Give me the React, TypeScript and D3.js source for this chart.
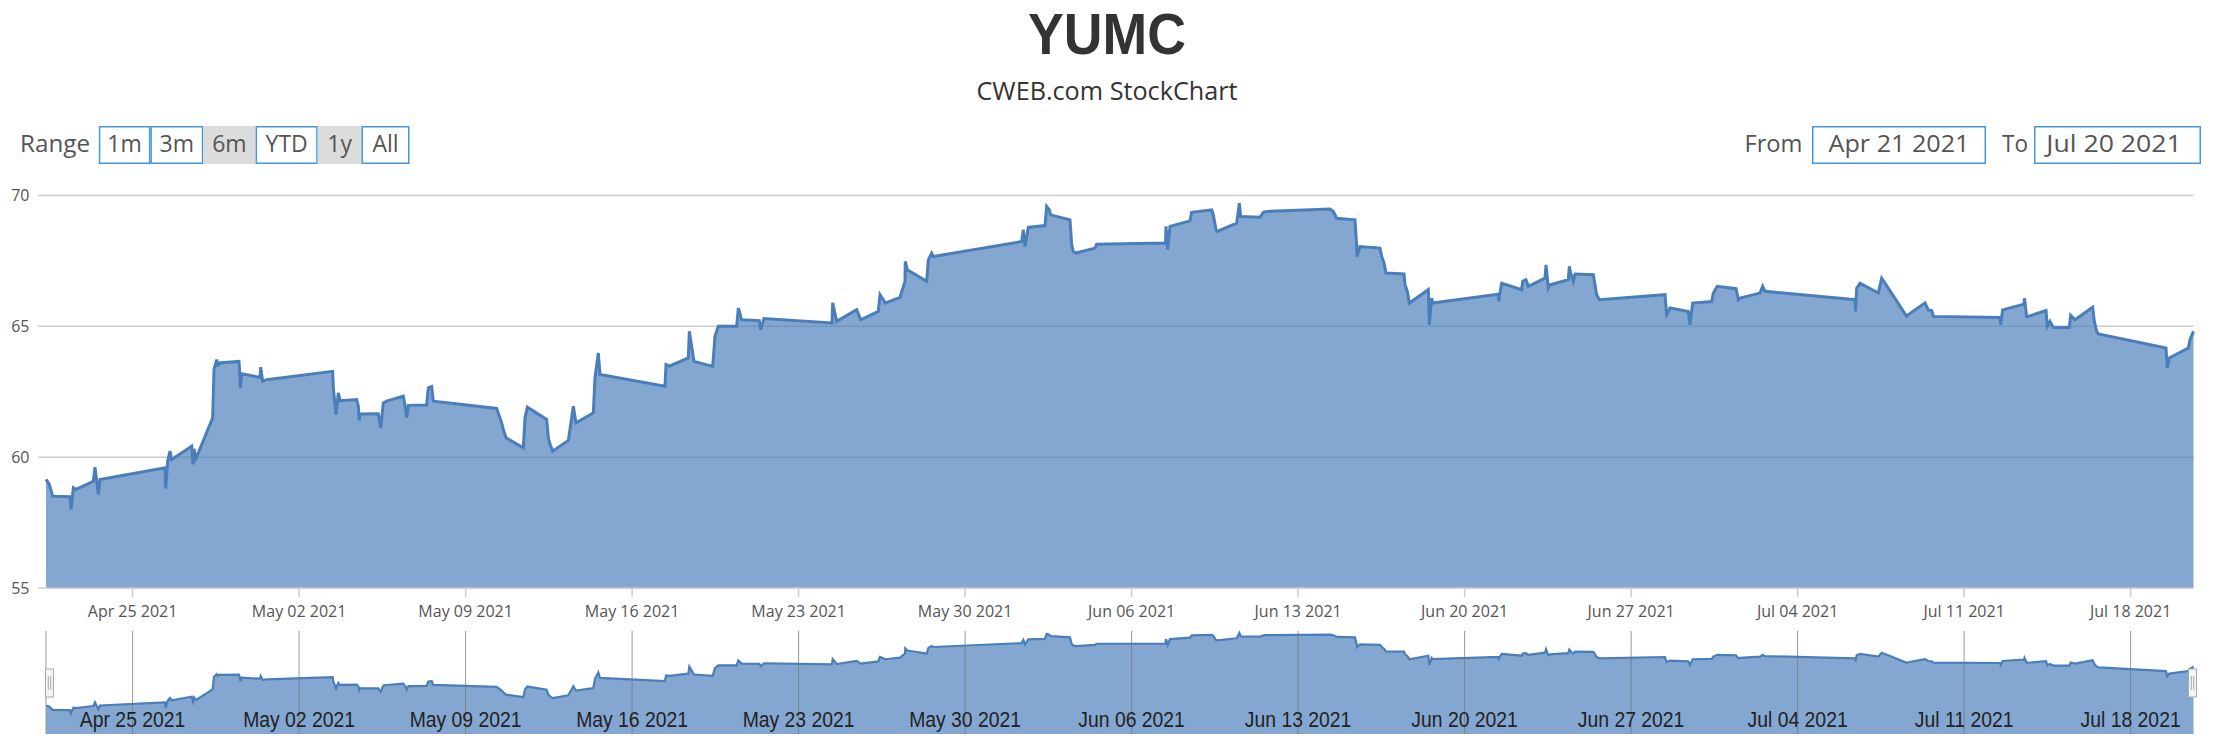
import React from 'react';
import * as d3 from 'd3';

const chartTitle = 'YUMC';
const chartSubtitle = 'CWEB.com StockChart';
const rangeLabel = 'Range';
const rangeButtons = ['1m', '3m', '6m', 'YTD', '1y', 'All'];
const selectedButtons = ['6m', '1y'];
const fromLabel = 'From';
const toLabel = 'To';
const fromValue = 'Apr 21 2021';
const toValue = 'Jul 20 2021';
const yTicks = [55, 60, 65, 70];

const times = [
  '2021-04-21T08:37', '2021-04-21T11:59', '2021-04-21T15:21', '2021-04-22T08:50', '2021-04-22T09:50',
  '2021-04-22T12:12', '2021-04-22T14:53', '2021-04-23T08:22', '2021-04-23T10:04', '2021-04-23T13:25',
  '2021-04-23T15:06', '2021-04-26T08:41', '2021-04-26T09:22', '2021-04-26T11:23', '2021-04-26T13:44',
  '2021-04-26T15:25', '2021-04-27T11:36', '2021-04-27T12:56', '2021-04-27T13:57', '2021-04-27T15:58',
  '2021-04-28T08:47', '2021-04-28T10:08', '2021-04-28T12:49', '2021-04-28T14:10', '2021-04-28T15:11',
  '2021-04-29T11:21', '2021-04-29T12:22', '2021-04-29T12:42', '2021-04-29T14:03', '2021-04-30T08:33',
  '2021-04-30T09:13', '2021-04-30T11:14', '2021-04-30T15:16', '2021-05-03T09:52', '2021-05-03T10:32',
  '2021-05-03T13:14', '2021-05-03T15:35', '2021-05-03T17:16', '2021-05-04T10:05', '2021-05-04T11:46',
  '2021-05-04T12:38', '2021-05-04T13:27', '2021-05-05T07:56', '2021-05-05T10:18', '2021-05-05T12:59',
  '2021-05-05T16:21', '2021-05-06T09:10', '2021-05-06T11:51', '2021-05-06T12:32', '2021-05-06T14:12',
  '2021-05-07T08:43', '2021-05-07T10:23', '2021-05-07T13:46', '2021-05-07T15:26', '2021-05-10T07:20',
  '2021-05-10T10:42', '2021-05-10T12:23', '2021-05-10T14:04', '2021-05-10T16:45', '2021-05-11T10:15',
  '2021-05-11T11:56', '2021-05-11T14:17', '2021-05-12T09:48', '2021-05-12T11:28', '2021-05-12T13:09',
  '2021-05-12T15:51', '2021-05-13T07:39', '2021-05-13T11:01', '2021-05-13T12:42', '2021-05-13T15:23',
  '2021-05-14T08:52', '2021-05-14T10:33', '2021-05-14T13:55', '2021-05-14T15:36', '2021-05-17T09:11',
  '2021-05-17T10:12', '2021-05-17T13:33', '2021-05-18T08:44', '2021-05-18T09:44', '2021-05-18T12:06',
  '2021-05-18T14:27', '2021-05-19T09:17', '2021-05-19T11:38', '2021-05-19T15:00', '2021-05-20T09:30',
  '2021-05-20T11:11', '2021-05-20T14:33', '2021-05-21T08:22', '2021-05-21T09:43', '2021-05-21T13:05',
  '2021-05-24T09:41', '2021-05-24T10:22', '2021-05-24T14:24', '2021-05-25T10:35', '2021-05-25T14:37',
  '2021-05-26T08:26', '2021-05-26T10:07', '2021-05-26T13:29', '2021-05-26T15:10', '2021-05-27T06:18',
  '2021-05-27T11:21', '2021-05-27T11:39', '2021-05-27T13:42', '2021-05-28T09:13', '2021-05-28T10:54',
  '2021-05-28T14:15', '2021-05-28T15:56', '2021-06-01T09:04', '2021-06-01T10:45', '2021-06-01T12:26',
  '2021-06-01T15:47', '2021-06-02T08:37', '2021-06-02T10:18', '2021-06-02T12:59', '2021-06-02T14:20',
  '2021-06-03T09:50', '2021-06-03T11:31', '2021-06-03T13:12', '2021-06-03T15:53', '2021-06-04T11:03',
  '2021-06-04T12:45', '2021-06-07T10:12', '2021-06-07T10:42', '2021-06-07T12:25', '2021-06-07T14:44',
  '2021-06-08T10:55', '2021-06-08T12:36', '2021-06-09T08:47', '2021-06-09T10:27', '2021-06-09T13:09',
  '2021-06-09T14:29', '2021-06-10T10:00', '2021-06-10T12:41', '2021-06-10T14:02', '2021-06-11T09:33',
  '2021-06-11T12:54', '2021-06-11T16:16', '2021-06-14T08:10', '2021-06-14T11:32', '2021-06-14T14:54',
  '2021-06-15T09:24', '2021-06-15T11:05', '2021-06-15T11:25', '2021-06-15T14:27', '2021-06-16T10:37',
  '2021-06-16T12:18', '2021-06-16T14:40', '2021-06-16T16:41', '2021-06-17T10:51', '2021-06-17T11:51',
  '2021-06-17T14:12', '2021-06-17T16:13', '2021-06-18T11:23', '2021-06-18T12:24', '2021-06-18T14:46',
  '2021-06-18T15:46', '2021-06-21T10:01', '2021-06-21T10:17', '2021-06-21T13:23', '2021-06-22T09:34',
  '2021-06-22T10:35', '2021-06-22T13:56', '2021-06-22T16:17', '2021-06-23T09:07', '2021-06-23T10:07',
  '2021-06-23T12:28', '2021-06-23T14:09', '2021-06-24T08:39', '2021-06-24T09:39', '2021-06-24T11:01',
  '2021-06-24T13:42', '2021-06-24T15:23', '2021-06-25T09:52', '2021-06-25T11:34', '2021-06-25T13:15',
  '2021-06-25T15:55', '2021-06-28T10:11', '2021-06-28T11:52', '2021-06-28T15:14', '2021-06-29T09:43',
  '2021-06-29T11:25', '2021-06-29T14:06', '2021-06-30T09:17', '2021-06-30T10:57', '2021-06-30T14:59',
  '2021-07-01T09:50', '2021-07-01T12:11', '2021-07-01T13:52', '2021-07-02T10:03', '2021-07-02T12:44',
  '2021-07-02T15:05', '2021-07-06T09:54', '2021-07-06T10:24', '2021-07-06T11:35', '2021-07-06T14:57',
  '2021-07-07T09:26', '2021-07-07T12:49', '2021-07-07T16:10', '2021-07-08T14:02', '2021-07-08T15:42',
  '2021-07-09T08:32', '2021-07-09T11:53', '2021-07-09T15:16', '2021-07-09T16:56', '2021-07-12T12:12',
  '2021-07-12T12:53', '2021-07-12T14:54', '2021-07-13T12:25', '2021-07-13T12:55', '2021-07-13T15:07',
  '2021-07-13T16:47', '2021-07-14T10:37', '2021-07-14T11:58', '2021-07-14T14:39', '2021-07-14T18:01',
  '2021-07-15T10:09', '2021-07-15T11:31', '2021-07-15T15:53', '2021-07-16T09:43', '2021-07-16T11:23',
  '2021-07-16T13:45', '2021-07-16T15:25', '2021-07-19T11:42', '2021-07-19T13:02', '2021-07-19T15:03',
  '2021-07-20T10:14', '2021-07-20T11:55', '2021-07-20T15:27',
];

const prices = [
  59.15, 58.96, 58.51, 58.49, 58.0,
  58.83, 58.77, 59.08, 59.62, 58.58,
  59.15, 59.59, 58.8, 59.85, 60.23,
  59.91, 60.42, 59.72, 60.32, 59.95,
  61.5, 63.35, 63.73, 63.47, 63.6,
  63.66, 63.03, 62.65, 63.19, 63.05,
  63.44, 62.9, 62.96, 63.28, 62.65,
  61.63, 62.46, 62.16, 62.2, 61.95,
  61.4, 61.65, 61.66, 61.12, 62.07,
  62.14, 62.33, 61.76, 61.5, 61.98,
  61.99, 62.65, 62.7, 62.14, 61.86,
  61.5, 61.31, 61.06, 60.74, 60.36,
  61.5, 61.91, 61.44, 60.74, 60.49,
  60.23, 60.64, 61.5, 61.95, 61.31,
  61.69, 63.03, 63.98, 63.16, 62.71,
  63.54, 63.48, 63.79, 64.81, 64.23,
  63.66, 63.47, 64.62, 65.0, 65.0,
  65.7, 65.25, 65.22, 64.87, 65.3,
  65.13, 65.9, 65.19, 65.64, 65.25,
  65.57, 66.21, 66.02, 65.89, 66.11,
  66.72, 67.48, 67.16, 66.72, 67.54,
  67.8, 67.67, 68.24, 68.69, 68.05,
  68.78, 68.85, 69.58, 69.45, 69.26,
  69.07, 68.12, 67.86, 67.8, 67.99,
  68.14, 68.18, 68.82, 67.93, 68.82,
  69.03, 69.36, 69.45, 69.26, 68.69,
  68.63, 68.94, 69.71, 69.2, 69.17,
  69.36, 69.39, 69.48, 69.39, 69.13,
  69.07, 68.05, 67.67, 68.05, 67.99,
  67.67, 67.42, 67.04, 67.0, 66.59,
  66.34, 65.89, 66.4, 65.06, 66.08,
  65.89, 66.23, 65.95, 66.65, 66.4,
  66.72, 66.78, 66.53, 66.84, 67.35,
  66.46, 66.59, 66.78, 67.29, 67.03,
  66.72, 67.0, 66.97, 66.59, 66.21,
  66.02, 66.21, 65.45, 65.7, 65.57,
  65.06, 65.89, 65.95, 66.27, 66.53,
  66.44, 66.02, 66.08, 66.27, 66.53,
  66.34, 66.02, 65.57, 66.46, 66.65,
  66.27, 66.84, 66.65, 65.38, 65.45,
  65.89, 65.63, 65.6, 65.38, 65.34,
  65.06, 65.63, 65.85, 66.08, 65.38,
  65.38, 65.6, 65.0, 65.19, 64.96,
  64.96, 65.42, 65.25, 65.73, 65.19,
  64.81, 64.71, 64.17, 63.41, 63.79,
  64.17, 64.49, 64.81,
];

// layout (not data)
const W = 2214;
const H = 742;
const plotL = 46;
const plotR = 2193.5;
const plotT = 195.5;
const plotB = 588;
const navT = 631;
const navB = 734;
const buttonStart = 98.8;
const buttonWidths = [51.6, 52.9, 52.3, 62.1, 43.8, 48];
const btnTop = 126;
const btnH = 38;
const blue = '#4498db';
const lineColor = '#4a7ebb';

export default function App() {
  const parse = d3.utcParse('%Y-%m-%dT%H:%M');
  const data = times.map((t, i) => ({ date: parse(t) as Date, value: prices[i] }));

  const x = d3
    .scaleUtc()
    .domain(d3.extent(data, (d) => d.date) as [Date, Date])
    .range([plotL, plotR]);
  const y = d3.scaleLinear().domain([55, 70]).range([plotB, plotT]);
  const yNav = d3.scaleLinear().domain([55, 70]).range([navB, navT]);

  const weekTicks = x.ticks(d3.utcWeek.every(1) as any);
  const fmt = d3.utcFormat('%b %d %Y');

  const area = d3
    .area<{ date: Date; value: number }>()
    .x((d) => x(d.date))
    .y0(plotB)
    .y1((d) => y(d.value));
  const line = d3
    .line<{ date: Date; value: number }>()
    .x((d) => x(d.date))
    .y((d) => y(d.value));
  const navArea = d3
    .area<{ date: Date; value: number }>()
    .x((d) => x(d.date))
    .y0(navB)
    .y1((d) => yNav(d.value));
  const navLine = d3
    .line<{ date: Date; value: number }>()
    .x((d) => x(d.date))
    .y((d) => yNav(d.value));

  let bx = buttonStart;
  const buttons = rangeButtons.map((label, i) => {
    const b = { label, x: bx, w: buttonWidths[i], selected: selectedButtons.includes(label) };
    bx += buttonWidths[i];
    return b;
  });

  const textFont = "'Open Sans', 'DejaVu Sans', sans-serif";

  return (
    <div style={{ position: 'absolute', left: 0, top: 0, width: W, height: H, overflow: 'hidden', background: '#fff' }}>
      <svg width={W} height={H} style={{ display: 'block' }} fontFamily={textFont}>
        <rect x={0} y={0} width={W} height={H} fill="#fff" />
        {/* Title */}
        <text x={W / 2} y={54} textAnchor="middle" fontSize={58} fontWeight="bold" fill="#333"
          fontFamily="'Liberation Sans', Arial, sans-serif"
          textLength={158} lengthAdjust="spacingAndGlyphs">{chartTitle}</text>
        <text x={W / 2} y={100} textAnchor="middle" fontSize={25} fill="#333"
          textLength={261} lengthAdjust="spacingAndGlyphs">{chartSubtitle}</text>

        {/* Range selector */}
        <text x={20} y={152} fontSize={23} fill="#555" textLength={70} lengthAdjust="spacingAndGlyphs">{rangeLabel}</text>
        {buttons.map((b) => (
          <g key={b.label}>
            {b.selected ? (
              <rect x={b.x} y={btnTop} width={b.w} height={btnH} fill="#dcdcdc" />
            ) : (
              <rect x={b.x + 0.75} y={btnTop + 0.75} width={b.w - 1.5} height={btnH - 1.5} fill="#fff" stroke={blue} strokeWidth={1.5} />
            )}
            <text x={b.x + b.w / 2} y={152} textAnchor="middle" fontSize={23} fill="#555">{b.label}</text>
          </g>
        ))}

        {/* Date inputs */}
        <text x={1744.5} y={152} fontSize={23} fill="#555" textLength={58} lengthAdjust="spacingAndGlyphs">{fromLabel}</text>
        <rect x={1812.75} y={btnTop + 0.75} width={172.5} height={btnH - 1.5} fill="#fff" stroke={blue} strokeWidth={1.5} />
        <text x={1899} y={152} textAnchor="middle" fontSize={23} fill="#555" textLength={141} lengthAdjust="spacingAndGlyphs">{fromValue}</text>
        <text x={2002} y={152} fontSize={23} fill="#555" textLength={26} lengthAdjust="spacingAndGlyphs">{toLabel}</text>
        <rect x={2034.75} y={btnTop + 0.75} width={165.5} height={btnH - 1.5} fill="#fff" stroke={blue} strokeWidth={1.5} />
        <text x={2114} y={152} textAnchor="middle" fontSize={23} fill="#555" textLength={135.5} lengthAdjust="spacingAndGlyphs">{toValue}</text>

        {/* Grid */}
        {yTicks.map((t) => (
          <g key={t}>
            <line x1={38} x2={plotR} y1={y(t)} y2={y(t)} stroke="#cccccc" strokeWidth={1.5} />
            <text x={29.5} y={y(t) + 5.5} textAnchor="end" fontSize={16} fill="#555">{t}</text>
          </g>
        ))}

        {/* Main series */}
        <path d={area(data) || ''} fill={lineColor} fillOpacity={0.68} />
        <path d={line(data) || ''} fill="none" stroke={lineColor} strokeWidth={3} />

        {/* X axis */}
        <line x1={plotL} x2={plotR} y1={plotB} y2={plotB} stroke="#cccccc" strokeWidth={1.5} />
        {weekTicks.map((t) => (
          <g key={+t}>
            <line x1={x(t)} x2={x(t)} y1={plotB} y2={plotB + 9} stroke="#cccccc" strokeWidth={1.5} />
            <text x={x(t)} y={617} textAnchor="middle" fontSize={16} fill="#555">{fmt(t)}</text>
          </g>
        ))}

        {/* Navigator */}
        <path d={navArea(data) || ''} fill={lineColor} fillOpacity={0.68} />
        <path d={navLine(data) || ''} fill="none" stroke={lineColor} strokeWidth={2.2} />
        {weekTicks.map((t) => (
          <line key={'ng' + +t} x1={x(t)} x2={x(t)} y1={navT} y2={navB} stroke="#777" strokeOpacity={0.75} strokeWidth={1} />
        ))}
        <line x1={plotL} x2={plotL} y1={navT} y2={navB} stroke="#999" strokeWidth={1} />
        {weekTicks.map((t) => (
          <text key={'nl' + +t} transform={`translate(${x(t)},727) scale(0.88,1)`} textAnchor="middle"
            fontSize={22} fill="#222" fontFamily="'Liberation Sans', Arial, sans-serif">{fmt(t)}</text>
        ))}
        {/* Handles */}
        {[plotL + 3.5, plotR - 1].map((hx, i) => (
          <g key={'h' + i}>
            <rect x={hx - 4} y={669} width={8} height={28} fill="#f4f4f4" stroke="#aaa" strokeWidth={1} />
            <line x1={hx - 1.2} x2={hx - 1.2} y1={676} y2={690} stroke="#aaa" strokeWidth={1} />
            <line x1={hx + 1.2} x2={hx + 1.2} y1={676} y2={690} stroke="#aaa" strokeWidth={1} />
          </g>
        ))}
      </svg>
    </div>
  );
}
